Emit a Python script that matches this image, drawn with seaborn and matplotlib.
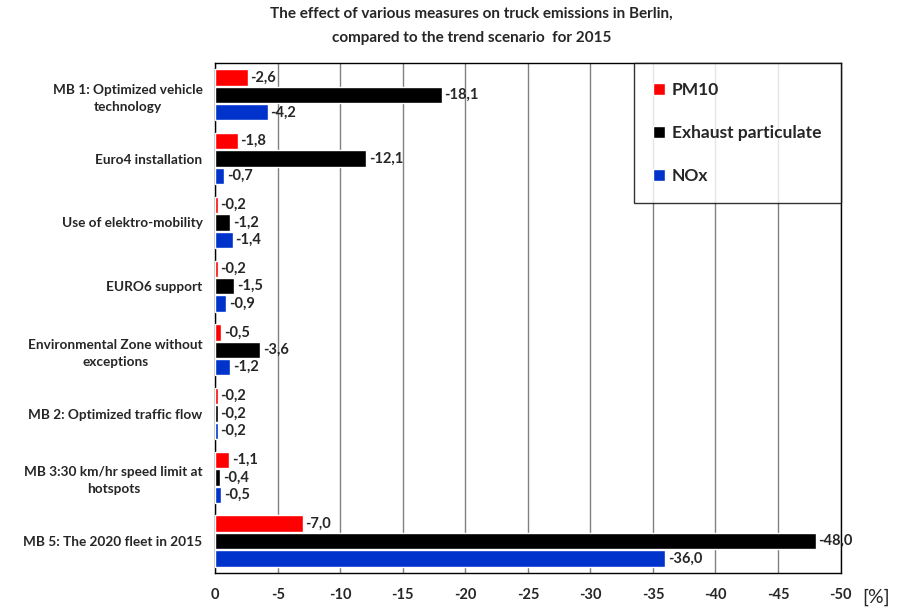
import pandas as pd
import seaborn as sns
import matplotlib.pyplot as plt

# Data (percent change vs. trend scenario 2015)
measures = [
    "MB 1: Optimized vehicle\ntechnology",
    "Euro4 installation",
    "Use of elektro-mobility",
    "EURO6 support",
    "Environmental Zone without\nexceptions",
    "MB 2: Optimized traffic flow",
    "MB 3:30 km/hr speed limit at\nhotspots",
    "MB 5: The 2020 fleet in 2015",
]
pm10 = [-2.6, -1.8, -0.2, -0.2, -0.5, -0.2, -1.1, -7.0]
exhaust = [-18.1, -12.1, -1.2, -1.5, -3.6, -0.2, -0.4, -48.0]
nox = [-4.2, -0.7, -1.4, -0.9, -1.2, -0.2, -0.5, -36.0]
series = ["PM10", "Exhaust particulate", "NOx"]
colors = ["#ff0000", "#000000", "#0033cc"]
xticks = [0, -5, -10, -15, -20, -25, -30, -35, -40, -45, -50]

# long format table for seaborn
df = pd.DataFrame({
    "measure": measures * 3,
    "value": pm10 + exhaust + nox,
    "series": [series[0]] * 8 + [series[1]] * 8 + [series[2]] * 8,
})

sns.set_style("white")
plt.rcParams["font.family"] = ["Lato", "DejaVu Sans"]
plt.rcParams["font.weight"] = "bold"

fig = plt.figure(figsize=(9, 6.1), dpi=100)
ax = fig.add_axes([0.239, 0.0607, 0.695, 0.836])

sns.barplot(data=df, y="measure", x="value", hue="series", orient="h",
            palette=colors, width=0.82, gap=0.06, saturation=1,
            order=measures, hue_order=series, ax=ax, zorder=3)

# value labels with comma decimals, placed right of the bar end (axis is inverted)
for cont in ax.containers:
    for rect, v in zip(cont.patches, cont.datavalues):
        yc = rect.get_y() + rect.get_height() / 2
        ax.annotate(f"{v:.1f}".replace(".", ","), xy=(v, yc),
                    xytext=(2, 0), textcoords="offset points",
                    ha="left", va="center", fontsize=10.5, fontweight="bold",
                    zorder=4)

ax.set_xlim(0, -50)
ax.set_xticks(xticks)
ax.set_xticklabels([str(t) for t in xticks], fontsize=10.5, fontweight="bold")
ax.tick_params(axis="x", length=5, width=1, color="#808080", direction="out", pad=6)
ax.tick_params(axis="y", length=0, pad=9)
for lab in ax.get_yticklabels():
    lab.set_fontsize(9.8)
    lab.set_fontweight("bold")
    lab.set_multialignment("center")
    lab.set_linespacing(1.5)
ax.xaxis.grid(True, color="#808080", linewidth=1)
ax.set_axisbelow(True)
ax.set_xlabel("")
ax.set_ylabel("")
for s in ax.spines.values():
    s.set_color("#000000")
    s.set_linewidth(1)

leg = ax.legend(loc="upper right", bbox_to_anchor=(1.0, 1.0), frameon=True,
                fancybox=False, edgecolor="black", fontsize=12.5,
                handlelength=0.7, handleheight=0.7, handletextpad=0.4,
                labelspacing=1.55, borderpad=1.1, borderaxespad=0)
for t in leg.get_texts():
    t.set_fontweight("bold")
leg.get_frame().set_linewidth(1)

fig.text(0.958, 0.012, "[%]", fontsize=14, fontweight="normal", ha="left")
fig.text(0.524, 0.927,
         "The effect of various measures on truck emissions in Berlin,\ncompared to the trend scenario  for 2015",
         ha="center", va="bottom", fontsize=11, fontweight="bold", linespacing=1.85)

plt.savefig("out.png", dpi=100)
